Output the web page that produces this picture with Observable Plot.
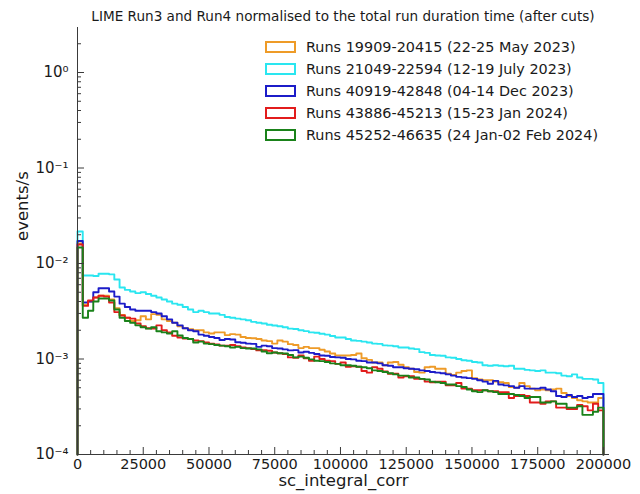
<!DOCTYPE html>
<html>
<head>
<meta charset="utf-8">
<script src="https://cdn.jsdelivr.net/npm/d3@7"></script>
<script src="https://cdn.jsdelivr.net/npm/@observablehq/plot@0.6"></script>
<style>
  html, body { margin: 0; padding: 0; background: #fff; }
  #wrap { position: relative; width: 640px; height: 494px; font-family: "DejaVu Sans", sans-serif; color: #1a1a1a; }
  #title { position: absolute; left: 343px; top: 8px; transform: translateX(-50%); white-space: nowrap; font-size: 13.6px; }
  .leg { position: absolute; left: 265px; height: 22px; display: flex; align-items: center; white-space: nowrap; font-size: 14.4px; }
  .sw { width: 27px; height: 8px; border: 2px solid; background: #fff; margin-right: 10px; }
</style>
</head>
<body>
<div id="wrap">
  <div id="title">LIME Run3 and Run4 normalised to the total run duration time (after cuts)</div>
</div>
<script>
// Histogram of sc_integral_corr: 100 bins of width 2000, rates in units of 1e-4 events/s
const binWidth = 2000;
const nBins = 100;
const rateUnit = 1e-4;

const seriesLabels = [
  "Runs 19909-20415 (22-25 May 2023)",
  "Runs 21049-22594 (12-19 July 2023)",
  "Runs 40919-42848 (04-14 Dec 2023)",
  "Runs 43886-45213 (15-23 Jan 2024)",
  "Runs 45252-46635 (24 Jan-02 Feb 2024)"
];
const seriesColors = ["#ee9b28", "#2ae6f0", "#1c1cc8", "#e21c1c", "#1a821a"];

const runs19909 = [
  162, 37, 40, 44, 46, 46, 42, 34, 29, 27,
  25, 25.5, 28, 26, 29.5, 29, 26, 25, 24, 22,
  21, 20.5, 20, 20, 19, 18.5, 19, 19, 17.8, 18.2,
  18, 17, 16.6, 16.5, 16.2, 15.6, 15.4, 14.5, 15.6, 15.2,
  14.3, 14.0, 13.0, 13.4, 13.0, 13.0, 12.5, 12.0, 11.4, 10.9,
  10.9, 10.9, 11.0, 11.4, 10.2, 9.8, 9.2, 9.2, 8.6, 9.2,
  9.3, 8.7, 8.2, 7.9, 7.3, 7.2, 8.2, 8.3, 7.9, 7.9,
  7.0, 6.8, 7.2, 7.5, 7.6, 6.3, 6.1, 6.0, 6.0, 5.8,
  5.7, 5.6, 5.1, 5.0, 5.6, 5.2, 4.9, 4.7, 4.8, 4.7,
  4.8, 4.9, 4.4, 4.1, 3.9, 3.7, 3.6, 3.5, 3.5, 3.9
];
const runs21049 = [
  216, 75, 75, 74, 78, 78, 77, 68, 56, 53,
  51, 49, 50, 48, 46, 44, 42, 40, 38, 37,
  35, 33, 31, 32, 31, 30, 30, 29, 27.5, 27,
  26.5, 26, 25.5, 24.5, 24, 23.5, 22.8, 22.4, 22.0, 21.5,
  20.8, 20.6, 20.0, 19.6, 19.0, 18.8, 18.4, 18.0, 17.4, 16.8,
  16.8, 16.2, 15.6, 15.5, 15.2, 14.9, 14.5, 14.4, 13.9, 13.8,
  13.6, 13.2, 13.2, 12.9, 12.7, 11.8, 11.6, 11.0, 10.9, 10.8,
  10.4, 10.3, 10.0, 9.7, 9.6, 9.3, 9.2, 8.6, 8.5, 8.6,
  8.5, 8.4, 8.5, 7.9, 7.9, 7.7, 7.6, 7.5, 7.6, 7.2,
  7.2, 7.1, 6.7, 6.6, 6.9, 6.4, 6.2, 6.2, 6.1, 5.6
];
const runs40919 = [
  172, 39, 40, 50, 55, 55, 51, 45, 38, 35,
  33, 32, 32, 32, 31, 30, 28, 26, 24, 22.5,
  21, 20, 19.5, 18, 17.5, 17, 16.6, 15.8, 16.2, 16.0,
  15.0, 14.8, 14.5, 14.4, 13.4, 13.8, 13.6, 13.0, 12.9, 12.6,
  12.3, 12.4, 11.7, 11.9, 11.6, 11.3, 10.9, 10.8, 10.5, 10.4,
  10.3, 10.0, 9.9, 9.6, 9.5, 9.2, 9.2, 9.0, 8.6, 8.5,
  8.2, 8.2, 8.0, 7.9, 7.8, 7.6, 7.5, 7.3, 7.2, 7.1,
  6.9, 6.7, 6.5, 6.4, 6.3, 6.2, 6.0, 5.8, 5.5, 5.9,
  5.4, 5.3, 5.2, 5.0, 5.2, 4.9, 4.9, 4.9, 5.0, 4.8,
  4.6, 4.1, 4.0, 4.2, 4.0, 4.1, 3.9, 4.0, 4.3, 4.3
];
const runs43886 = [
  158, 36, 41, 44, 46, 45, 39, 31, 28.5, 27,
  26.5, 23.5, 22, 21, 20.8, 22.5, 20, 19, 17.5, 16.8,
  16.4, 16.2, 15.6, 15.4, 14.9, 14.5, 14.2, 13.8, 13.8, 14.0,
  13.6, 13.2, 13.0, 12.7, 12.3, 12.4, 12.2, 11.7, 11.5, 11.3,
  10.4, 10.3, 10.9, 10.2, 9.6, 10.6, 10.0, 9.6, 9.5, 8.9,
  9.2, 8.3, 8.4, 8.3, 7.5, 7.2, 8.2, 7.9, 7.4, 7.0,
  7.0, 6.4, 6.6, 6.6, 6.2, 6.2, 5.8, 5.7, 5.8, 5.8,
  5.3, 5.3, 5.6, 4.9, 4.9, 4.7, 4.7, 4.7, 4.6, 4.6,
  4.5, 4.5, 3.9, 4.1, 4.2, 4.1, 3.5, 3.5, 3.4, 3.6,
  3.6, 3.1, 3.1, 3.0, 3.0, 3.3, 3.2, 2.9, 3.4, 2.9
];
const runs45252 = [
  147, 27, 32, 40, 43, 43, 41, 33, 27, 25,
  24, 22.5, 21.5, 20.8, 21.5, 19.5, 19.0, 18.5, 19.5, 17.6,
  16.6, 16.2, 14.9, 15.2, 14.5, 14.3, 14.0, 13.8, 13.6, 13.2,
  13.4, 13.0, 12.9, 12.9, 12.6, 12.0, 11.5, 11.7, 11.5, 11.4,
  11.0, 10.4, 10.6, 10.3, 9.9, 9.6, 9.5, 9.3, 9.0, 8.9,
  8.6, 8.6, 8.5, 8.3, 8.2, 8.0, 7.6, 7.5, 7.3, 7.1,
  6.9, 6.7, 6.7, 6.4, 6.4, 6.2, 6.1, 5.8, 5.7, 5.6,
  5.4, 5.4, 5.2, 5.1, 4.8, 4.6, 4.5, 4.7, 4.6, 4.5,
  4.3, 4.3, 4.3, 4.2, 4.1, 3.9, 4.0, 4.0, 3.5, 3.5,
  3.6, 3.4, 3.4, 3.1, 3.1, 3.2, 2.6, 2.6, 2.8, 3.1
];
const seriesRates = [runs19909, runs21049, runs40919, runs43886, runs45252];

// Axis ticks
const xTicksMajor = d3.range(0, 200001, 25000);
const xTicksMinor = d3.range(0, 200001, 5000).filter(v => v % 25000 !== 0);
const yTicksMajor = [1e-4, 1e-3, 1e-2, 1e-1, 1];
const yTickMax = 2.96;
const yTicksMinor = [];
for (let e = -4; e <= 0; e++) for (let m = 2; m <= 9; m++) {
  const v = m * Math.pow(10, e);
  if (v <= yTickMax) yTicksMinor.push(v);
}

const floor = 1e-4; // step outline closes down to the bottom of the axis
function outline(rates, label) {
  const pts = [{x: 0, y: floor, s: label}];
  rates.forEach((r, i) => pts.push({x: i * binWidth, y: r * rateUnit, s: label}));
  pts.push({x: nBins * binWidth, y: floor, s: label});
  return pts;
}

const sup = {"-": "\u207B", "0": "\u2070", "1": "\u00B9", "2": "\u00B2", "3": "\u00B3", "4": "\u2074"};
const powerLabel = d => "10" + String(Math.round(Math.log10(d))).replace(/./g, c => sup[c]);

const W = 640, H = 494, mL = 77, mR = 31, mT = 27, mB = 40;
const innerW = W - mL - mR, innerH = H - mT - mB;
const axisColor = "#3a3a3a";

const lineMarks = seriesRates.map((rates, i) =>
  Plot.line(outline(rates, seriesLabels[i]), {
    x: "x", y: "y", curve: "step-after",
    stroke: seriesColors[i], strokeWidth: 1.9
  })
);

const chart = Plot.plot({
  width: W, height: H,
  marginLeft: mL, marginRight: mR, marginTop: mT, marginBottom: mB,
  style: {fontFamily: "DejaVu Sans, sans-serif", fontSize: "14px", color: "#1a1a1a", background: "transparent"},
  x: {domain: [0, 202300]},
  y: {type: "log", domain: [1e-4, yTickMax]},
  marks: [
    ...lineMarks,
    // inward tick marks
    Plot.ruleX(xTicksMajor, {x: d => d, insetTop: innerH - 7, stroke: axisColor}),
    Plot.ruleX(xTicksMinor, {x: d => d, insetTop: innerH - 4, stroke: axisColor}),
    Plot.ruleY(yTicksMajor, {y: d => d, insetRight: innerW - 7, stroke: axisColor}),
    Plot.ruleY(yTicksMinor, {y: d => d, insetRight: innerW - 4, stroke: axisColor}),
    // spines
    Plot.ruleX([0], {stroke: axisColor}),
    Plot.ruleY([1e-4], {stroke: axisColor}),
    Plot.axisX(xTicksMajor, {tickSize: 0, tickPadding: 4, tickFormat: d => String(d), label: null, fontSize: 14.5}),
    Plot.axisY(yTicksMajor, {tickSize: 0, tickPadding: 9, tickFormat: powerLabel, label: null, fontSize: 15}),
    Plot.text(["sc_integral_corr"], {frameAnchor: "bottom", dy: 31, fontSize: 16.5}),
    Plot.text(["events/s"], {frameAnchor: "left", dx: -55, rotate: -90, fontSize: 16.5})
  ]
});

const wrap = document.getElementById("wrap");
wrap.insertBefore(chart, wrap.firstChild);

// legend
seriesLabels.forEach((label, i) => {
  const row = document.createElement("div");
  row.className = "leg";
  row.style.top = (47 + 22 * i - 11) + "px";
  const sw = document.createElement("span");
  sw.className = "sw";
  sw.style.borderColor = seriesColors[i];
  row.appendChild(sw);
  row.appendChild(document.createTextNode(label));
  wrap.appendChild(row);
});
</script>
</body>
</html>
